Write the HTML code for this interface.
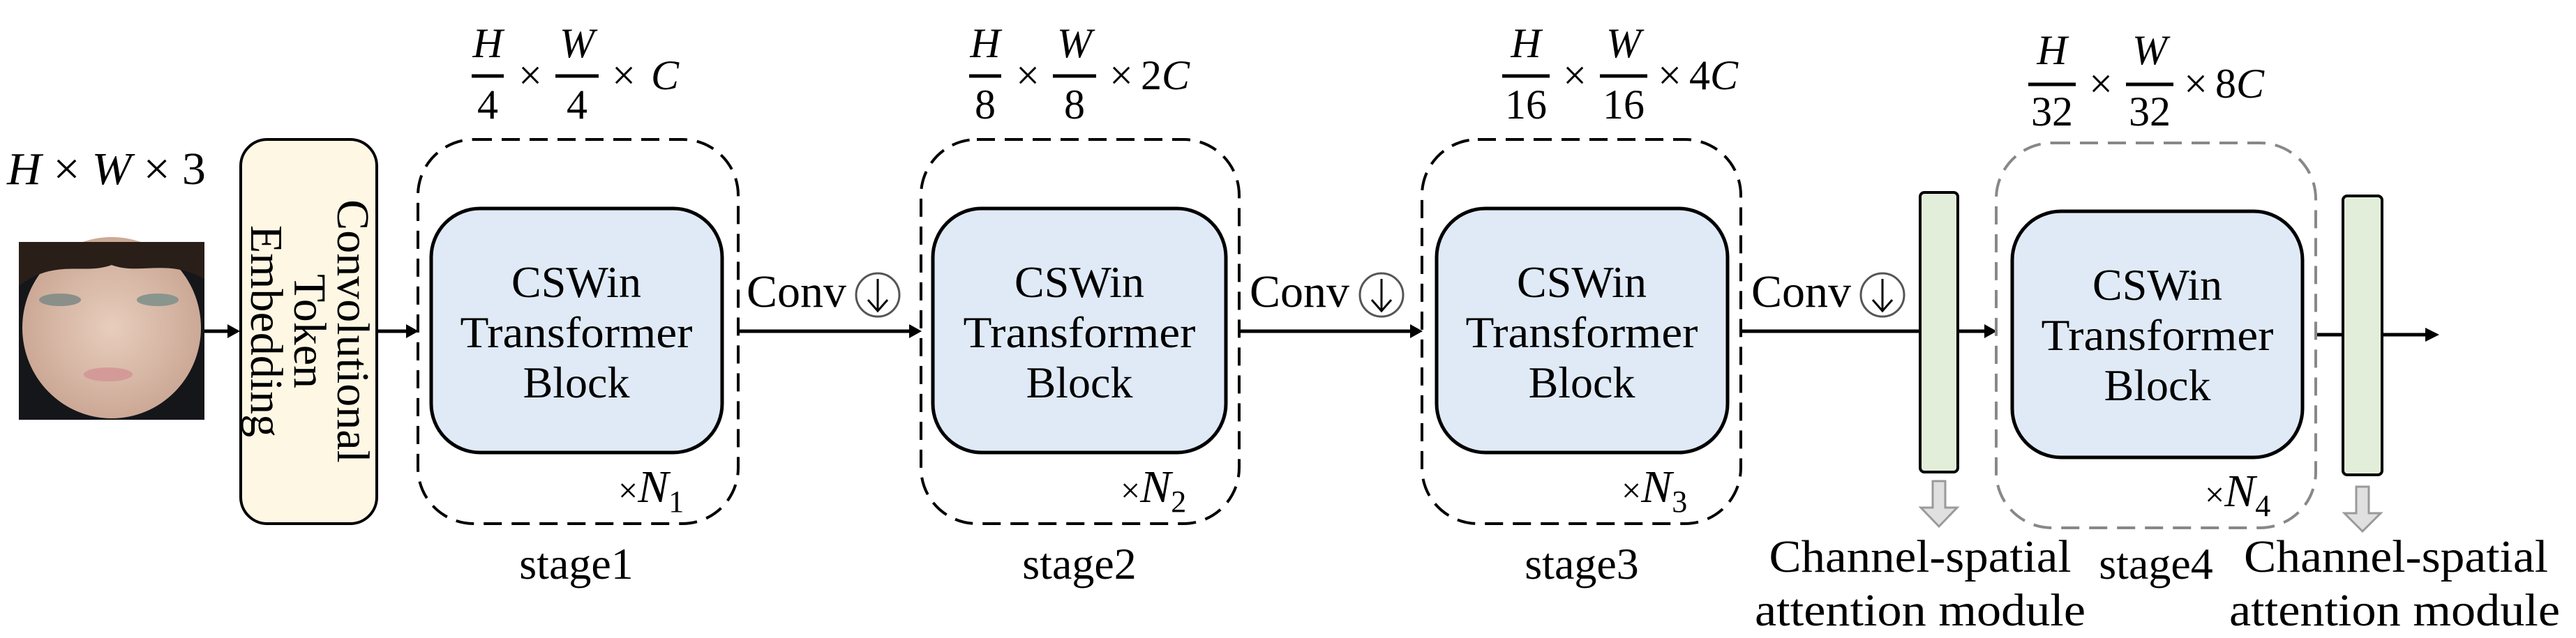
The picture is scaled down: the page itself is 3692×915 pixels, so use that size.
<!DOCTYPE html>
<html><head><meta charset="utf-8"><style>
html,body{margin:0;padding:0;background:#fff;width:3692px;height:915px;overflow:hidden}
svg{display:block}
text{font-family:"Liberation Serif",serif}
.t{font-family:"Liberation Serif",serif;fill:#000}
.m{font-family:"Liberation Serif",serif;font-style:italic;fill:#000}
</style></head><body>
<svg width="3692" height="915" viewBox="0 0 3692 915" xmlns="http://www.w3.org/2000/svg" font-family="Liberation Serif, serif">
<defs>
<radialGradient id="skin" cx="50%" cy="50%" r="55%"><stop offset="0" stop-color="#e8cdbd"/><stop offset="1" stop-color="#c9a592"/></radialGradient>
</defs>
<rect x="27" y="347" width="266" height="255" fill="#15161a"/>
<ellipse cx="160" cy="470" rx="128" ry="130" fill="url(#skin)"/>
<path d="M27 347 H293 V400 C240 370 200 395 160 380 C120 395 80 370 27 410 Z" fill="#2a1e18"/>
<ellipse cx="86" cy="430" rx="30" ry="9" fill="#8a8f8a"/>
<ellipse cx="226" cy="430" rx="30" ry="9" fill="#8a958e"/>
<ellipse cx="155" cy="537" rx="35" ry="10" fill="#d49a98"/>
<text class="m" x="10" y="264" font-size="66" textLength="285" lengthAdjust="spacingAndGlyphs">H <tspan font-style="normal">×</tspan> W <tspan font-style="normal">× 3</tspan></text>
<g stroke="#000" stroke-width="5" fill="none">
<line x1="293" y1="475" x2="330" y2="475"/>
<line x1="540" y1="475" x2="585" y2="475"/>
<line x1="1058" y1="475" x2="1306" y2="475"/>
<line x1="1776" y1="475" x2="2024" y2="475"/>
<line x1="2495" y1="475" x2="2752" y2="475"/>
<line x1="2806" y1="475" x2="2848" y2="475"/>
<line x1="3319" y1="480" x2="3358" y2="480"/>
<line x1="3414" y1="480" x2="3480" y2="480"/>
</g>
<g fill="#000">
<polygon points="344,475 326,465 326,485"/>
<polygon points="600,475 582,465 582,485"/>
<polygon points="1321,475 1303,465 1303,485"/>
<polygon points="2039,475 2021,465 2021,485"/>
<polygon points="2862,475 2844,465 2844,485"/>
<polygon points="3496,480 3476,470 3476,490"/>
</g>
<rect x="345" y="200" width="195" height="551" rx="38" fill="#fef7e4" stroke="#000" stroke-width="4"/>
<text class="t" font-size="66" text-anchor="middle" transform="translate(442 475) rotate(90)"><tspan x="0" y="-42">Convolutional</tspan><tspan x="0" y="20">Token</tspan><tspan x="0" y="82">Embedding</tspan></text>
<g fill="none" stroke="#000" stroke-width="4" stroke-dasharray="26 14">
<rect x="599" y="200" width="459" height="551" rx="80"/>
<rect x="1320" y="200" width="456" height="551" rx="80"/>
<rect x="2038" y="200" width="457" height="551" rx="80"/>
<rect x="2861" y="205" width="458" height="552" rx="80" stroke="#888"/>
</g>
<g fill="#dfeaf6" stroke="#000" stroke-width="5">
<rect x="618" y="299" width="417" height="350" rx="70"/>
<rect x="1337" y="299" width="420" height="350" rx="70"/>
<rect x="2059" y="299" width="417" height="350" rx="70"/>
<rect x="2884" y="303" width="416" height="353" rx="70"/>
</g>
<g class="t" font-size="64" text-anchor="middle" font-family="Liberation Serif, serif">
<text x="826" y="426">CSWin</text><text x="826" y="498" textLength="333" lengthAdjust="spacingAndGlyphs">Transformer</text><text x="826" y="570">Block</text>
<text x="1547" y="426">CSWin</text><text x="1547" y="498" textLength="333" lengthAdjust="spacingAndGlyphs">Transformer</text><text x="1547" y="570">Block</text>
<text x="2267" y="426">CSWin</text><text x="2267" y="498" textLength="333" lengthAdjust="spacingAndGlyphs">Transformer</text><text x="2267" y="570">Block</text>
<text x="3092" y="430">CSWin</text><text x="3092" y="502" textLength="333" lengthAdjust="spacingAndGlyphs">Transformer</text><text x="3092" y="574">Block</text>
</g>
<g class="m" font-size="66">
<text x="886" y="720"><tspan font-style="normal" font-size="50">×</tspan>N<tspan font-style="normal" font-size="44" dy="14">1</tspan></text>
<text x="1606" y="720"><tspan font-style="normal" font-size="50">×</tspan>N<tspan font-style="normal" font-size="44" dy="14">2</tspan></text>
<text x="2324" y="720"><tspan font-style="normal" font-size="50">×</tspan>N<tspan font-style="normal" font-size="44" dy="14">3</tspan></text>
<text x="3160" y="726"><tspan font-style="normal" font-size="50">×</tspan>N<tspan font-style="normal" font-size="44" dy="14">4</tspan></text>
</g>
<g class="t" font-size="64" text-anchor="middle">
<text x="826" y="830">stage1</text><text x="1547" y="830">stage2</text><text x="2267" y="830">stage3</text><text x="3090" y="830">stage4</text>
</g>
<g class="t" font-size="66">
<text x="1070" y="440">Conv</text><text x="1791" y="440">Conv</text><text x="2510" y="440">Conv</text>
</g>
<g fill="none" stroke="#000" stroke-width="3">
<circle cx="1258" cy="423" r="31" stroke="#555"/><path d="M1258 400 V445 M1244 430 L1258 446 L1272 430"/>
<circle cx="1980" cy="423" r="31" stroke="#555"/><path d="M1980 400 V445 M1966 430 L1980 446 L1994 430"/>
<circle cx="2698" cy="423" r="31" stroke="#555"/><path d="M2698 400 V445 M2684 430 L2698 446 L2712 430"/>
</g>
<rect x="2752" y="276" width="54" height="401" rx="6" fill="#e2eed9" stroke="#000" stroke-width="4"/>
<rect x="3358" y="281" width="56" height="400" rx="6" fill="#e2eed9" stroke="#000" stroke-width="4"/>
<g fill="#e0e0e0" stroke="#9a9a9a" stroke-width="3">
<polygon points="2770,690 2788,690 2788,728 2805,728 2779,755 2753,728 2770,728"/>
<polygon points="3377,698 3395,698 3395,736 3412,736 3386,762 3360,736 3377,736"/>
</g>
<g class="t" font-size="66" text-anchor="middle">
<text x="2752" y="820" textLength="433" lengthAdjust="spacingAndGlyphs">Channel-spatial</text><text x="2752" y="897" textLength="474" lengthAdjust="spacingAndGlyphs">attention module</text>
<text x="3434" y="820" textLength="436" lengthAdjust="spacingAndGlyphs">Channel-spatial</text><text x="3432" y="897" textLength="474" lengthAdjust="spacingAndGlyphs">attention module</text>
</g>
<g class="m" font-size="60">
<g transform="translate(676 0)">
<text x="23" y="82" text-anchor="middle">H</text><line x1="0" y1="109" x2="46" y2="109" stroke="#000" stroke-width="5"/><text x="23" y="170" text-anchor="middle" font-style="normal">4</text>
<text x="84" y="128" text-anchor="middle" font-style="normal">×</text>
<text x="151" y="82" text-anchor="middle">W</text><line x1="120" y1="109" x2="182" y2="109" stroke="#000" stroke-width="5"/><text x="151" y="170" text-anchor="middle" font-style="normal">4</text>
<text x="218" y="128" text-anchor="middle" font-style="normal">×</text><text x="257" y="128">C</text>
</g>
<g transform="translate(1389 0)">
<text x="23" y="82" text-anchor="middle">H</text><line x1="0" y1="109" x2="46" y2="109" stroke="#000" stroke-width="5"/><text x="23" y="170" text-anchor="middle" font-style="normal">8</text>
<text x="84" y="128" text-anchor="middle" font-style="normal">×</text>
<text x="151" y="82" text-anchor="middle">W</text><line x1="120" y1="109" x2="182" y2="109" stroke="#000" stroke-width="5"/><text x="151" y="170" text-anchor="middle" font-style="normal">8</text>
<text x="218" y="128" text-anchor="middle" font-style="normal">×</text><text x="246" y="128"><tspan font-style="normal">2</tspan>C</text>
</g>
<g transform="translate(2153 0)">
<text x="34" y="82" text-anchor="middle">H</text><line x1="0" y1="109" x2="68" y2="109" stroke="#000" stroke-width="5"/><text x="34" y="170" text-anchor="middle" font-style="normal">16</text>
<text x="104" y="128" text-anchor="middle" font-style="normal">×</text>
<text x="174" y="82" text-anchor="middle">W</text><line x1="140" y1="109" x2="208" y2="109" stroke="#000" stroke-width="5"/><text x="174" y="170" text-anchor="middle" font-style="normal">16</text>
<text x="240" y="128" text-anchor="middle" font-style="normal">×</text><text x="268" y="128"><tspan font-style="normal">4</tspan>C</text>
</g>
<g transform="translate(2907 0)">
<text x="34" y="92" text-anchor="middle">H</text><line x1="0" y1="121" x2="68" y2="121" stroke="#000" stroke-width="5"/><text x="34" y="180" text-anchor="middle" font-style="normal">32</text>
<text x="104" y="140" text-anchor="middle" font-style="normal">×</text>
<text x="174" y="92" text-anchor="middle">W</text><line x1="140" y1="121" x2="208" y2="121" stroke="#000" stroke-width="5"/><text x="174" y="180" text-anchor="middle" font-style="normal">32</text>
<text x="240" y="140" text-anchor="middle" font-style="normal">×</text><text x="268" y="140"><tspan font-style="normal">8</tspan>C</text>
</g>
</g>
</svg>
</body></html>
